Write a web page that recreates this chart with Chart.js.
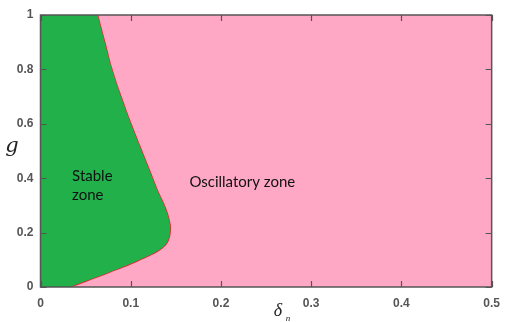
<!DOCTYPE html>
<html>
<head>
<meta charset="utf-8">
<script src="https://cdn.jsdelivr.net/npm/chart.js@4"></script>
<style>
  body { margin: 0; background: #fff; }
  canvas { display: block; }
</style>
</head>
<body>
<canvas id="zonas" width="509" height="322"></canvas>
<script>
// boundary between the stable and oscillatory zones: delta_n as a function of g
const gValues = [0, 0.05, 0.1, 0.15, 0.2, 0.25, 0.3, 0.35, 0.4, 0.45, 0.5, 0.6, 0.7, 0.8, 0.9, 1];
const deltaEdge = [0.035, 0.075, 0.112, 0.138, 0.1445, 0.143, 0.138, 0.131, 0.125, 0.119, 0.113, 0.101, 0.090, 0.080, 0.072, 0.064];

// stray solver points
const speckDelta = [0.079, 0.083, 0.087, 0.089, 0.092, 0.061];
const speckG = [0.143, 0.150, 0.158, 0.165, 0.548, 0.967];
const redDotDelta = [0.468];
const redDotG = [0.96];

const xTicks = [0, 0.1, 0.2, 0.3, 0.4, 0.5];
const yTicks = [0, 0.2, 0.4, 0.6, 0.8, 1];

const verde = '#22b04b';
const rosa = '#ffa8c6';
const vermelho = '#e8262f';

const borda = gValues.map((g, i) => ({x: deltaEdge[i], y: g}));
const specks = speckG.map((g, i) => ({x: speckDelta[i], y: g}));
const redDots = redDotG.map((g, i) => ({x: redDotDelta[i], y: g}));

// frame with inward ticks on all four sides
const moldura = {
    id: 'moldura',
    afterDatasetsDraw(chart) {
        const {ctx, chartArea: a, scales} = chart;
        ctx.save();
        ctx.strokeStyle = '#555';
        ctx.lineWidth = 1.5;
        ctx.strokeRect(a.left, a.top, a.right - a.left, a.bottom - a.top);
        ctx.lineWidth = 1.2;
        ctx.beginPath();
        xTicks.forEach(v => {
            const px = Math.round(scales.x.getPixelForValue(v)) + 0.5;
            ctx.moveTo(px, a.bottom); ctx.lineTo(px, a.bottom - 6);
            ctx.moveTo(px, a.top); ctx.lineTo(px, a.top + 6);
        });
        yTicks.forEach(v => {
            const py = Math.round(scales.y.getPixelForValue(v)) + 0.5;
            ctx.moveTo(a.left, py); ctx.lineTo(a.left + 6, py);
            ctx.moveTo(a.right, py); ctx.lineTo(a.right - 6, py);
        });
        ctx.stroke();

        // zone labels
        ctx.fillStyle = '#111';
        ctx.font = '15px Lato, "Open Sans", sans-serif';
        ctx.textBaseline = 'alphabetic';
        ctx.textAlign = 'left';
        const sx = scales.x.getPixelForValue(0.035);
        const sy = scales.y.getPixelForValue(0.39);
        ctx.fillText('Stable', sx, sy);
        ctx.fillText('zone', sx, sy + 19);
        ctx.fillText('Oscillatory zone', scales.x.getPixelForValue(0.165), scales.y.getPixelForValue(0.368));

        // axis titles
        ctx.fillStyle = '#222';
        ctx.font = 'italic 21px "DejaVu Serif", "Liberation Serif", serif';
        ctx.textAlign = 'center';
        ctx.fillText('g', 12, 152);
        ctx.font = 'italic 18px "Liberation Serif", serif';
        ctx.fillText('\u03B4', 278, 316);
        ctx.font = 'italic 9px "Liberation Serif", serif';
        ctx.fillText('n', 288, 321);
        ctx.restore();
    }
};

const rotulo = v => String(+Number(v).toFixed(1));
const fonteEixo = { family: '"Liberation Sans", Arial, sans-serif', size: 12, weight: 'bold' };

const ctx = document.getElementById('zonas').getContext('2d');
new Chart(ctx, {
    type: 'line',
    data: {
        datasets: [
            {
                data: borda,
                fill: {value: 0.5},
                backgroundColor: rosa,
                borderWidth: 0,
                pointRadius: 0,
                tension: 0.4
            },
            {
                data: borda,
                fill: {value: 0},
                backgroundColor: verde,
                borderColor: vermelho,
                borderWidth: 1.5,
                pointRadius: 0,
                tension: 0.4
            },
            {
                data: specks,
                showLine: false,
                pointRadius: 1.3,
                pointBorderWidth: 0,
                pointBackgroundColor: '#4b4fa0'
            },
            {
                data: redDots,
                showLine: false,
                pointRadius: 1.3,
                pointBorderWidth: 0,
                pointBackgroundColor: '#e0303a'
            }
        ]
    },
    options: {
        responsive: false,
        animation: false,
        indexAxis: 'y',
        layout: { padding: { top: 15, right: 8, left: 0, bottom: 0 } },
        plugins: {
            legend: { display: false },
            tooltip: { enabled: false }
        },
        scales: {
            x: {
                type: 'linear',
                min: 0,
                max: 0.5,
                afterBuildTicks: s => { s.ticks = xTicks.map(v => ({value: v})); },
                afterFit: s => { s.height = 35; },
                grid: { display: false, drawTicks: false },
                border: { display: false },
                ticks: {
                    padding: 9,
                    color: '#555',
                    maxRotation: 0,
                    callback: rotulo,
                    font: fonteEixo
                }
            },
            y: {
                type: 'linear',
                min: 0,
                max: 1,
                afterBuildTicks: s => { s.ticks = yTicks.map(v => ({value: v})); },
                afterFit: s => { s.width = 40.5; },
                grid: { display: false, drawTicks: false },
                border: { display: false },
                ticks: {
                    padding: 7,
                    color: '#555',
                    callback: rotulo,
                    font: fonteEixo
                }
            }
        }
    },
    plugins: [moldura]
});
</script>
</body>
</html>
